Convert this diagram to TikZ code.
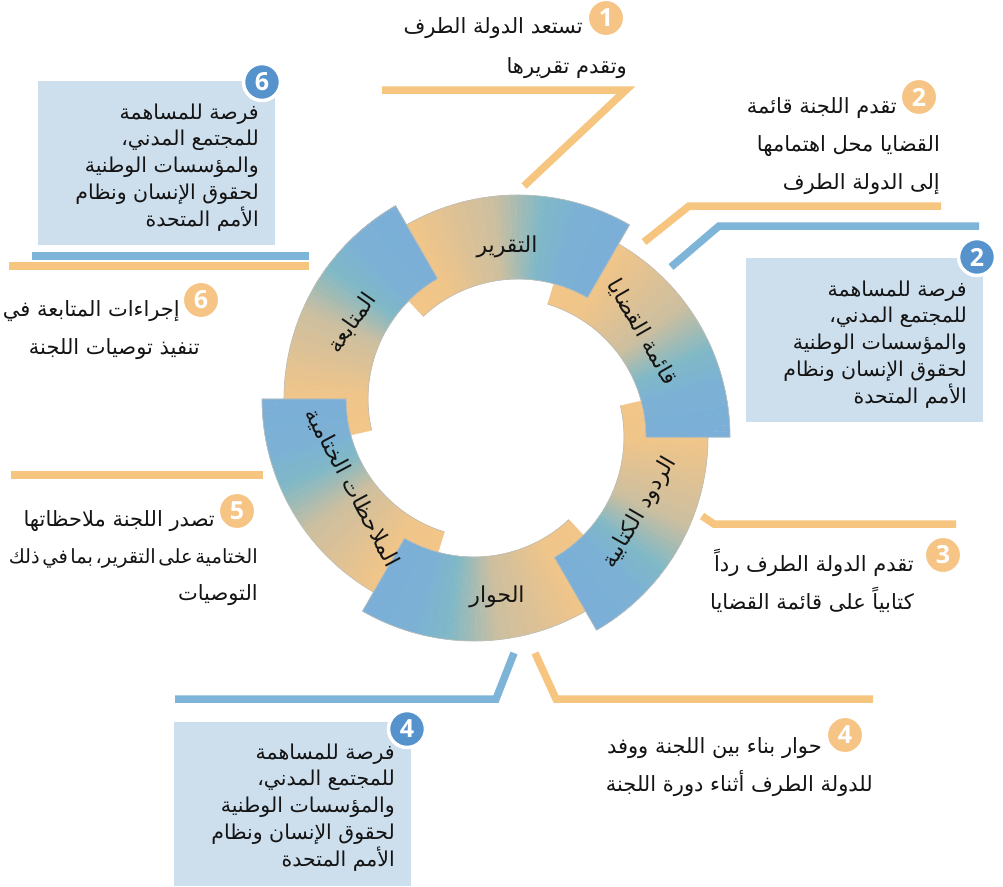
\documentclass[tikz,border=0pt]{standalone}
\usepackage{fontspec}
\setmainfont{DejaVu Sans}
\newfontfamily\arabicfont[Script=Arabic]{DejaVu Sans}
\newfontfamily\digitfont{Open Sans}
\TeXXeTstate=1
\definecolor{lorange}{RGB}{246,197,128}
\definecolor{lblue}{RGB}{126,180,216}
\definecolor{boxblue}{RGB}{205,222,237}
\definecolor{badgeblue}{RGB}{86,146,204}
\definecolor{badgeorange}{RGB}{246,196,132}
\definecolor{txtcol}{RGB}{20,20,20}
\definecolor{segedge}{RGB}{190,190,185}
\newcommand\rtlline[1]{\beginR #1\endR}
\newcommand\firstline[1]{\rule{0pt}{22pt}\beginR #1\endR}
\newcommand\slicecolor[1]{%
  \pgfmathsetmacro\gsA{max(0,min(1,(#1)/0.2))}%
  \pgfmathsetmacro\gsB{max(0,min(1,((#1)-0.2)/0.3))}%
  \pgfmathsetmacro\gsC{max(0,min(1,((#1)-0.5)/0.18))}%
  \pgfmathsetmacro\gsD{max(0,min(1,((#1)-0.68)/0.12))}%
  \pgfmathsetmacro\gsE{max(0,min(1,((#1)-0.8)/0.2))}%
  \pgfmathtruncatemacro\gR{243-3*\gsA-35*\gsB-77*\gsC-3*\gsD-2*\gsE}%
  \pgfmathtruncatemacro\gG{198-1*\gsA-6*\gsB-6*\gsC-7*\gsD-3*\gsE}%
  \pgfmathtruncatemacro\gB{136+2*\gsA+22*\gsB+39*\gsC+14*\gsD+3*\gsE}%
  \definecolor{slc}{RGB}{\gR,\gG,\gB}%
}
\newcommand\ringseg[3]{%
  \pgfmathsetmacro\segc{90-60*#1}%
  \pgfmathsetmacro\segox{496+22*sin(\segc)}%
  \pgfmathsetmacro\segoy{418+22*cos(\segc)}%
  \foreach \sli in {#2,...,#3}{%
    \pgfmathsetmacro\sgA{\segc+43-73*\sli/48}%
    \pgfmathsetmacro\sgB{\segc+43-73*(\sli+1)/48}%
    \pgfmathsetmacro\sgT{(\sli+0.5)/48}%
    \slicecolor{\sgT}%
    \filldraw[slc, line width=0.4pt]
      ({\segox+139*cos(\sgA)},{\segoy-139*sin(\sgA)}) --
      ({\segox+223*cos(\sgA)},{\segoy-223*sin(\sgA)}) --
      ({\segox+223*cos(\sgB)},{\segoy-223*sin(\sgB)}) --
      ({\segox+139*cos(\sgB)},{\segoy-139*sin(\sgB)}) -- cycle;
  }%
  \pgfmathsetmacro\sgS{\segc+43-73*#2/48}%
  \pgfmathsetmacro\sgE{\segc+43-73*(#3+1)/48}%
  \draw[segedge, line width=0.6pt]
    plot[domain=\sgS:\sgE, samples=40] ({\segox+223*cos(\x)},{\segoy-223*sin(\x)}) --
    plot[domain=\sgE:\sgS, samples=40] ({\segox+139*cos(\x)},{\segoy-139*sin(\x)});
}
\begin{document}
\begin{tikzpicture}[x=1pt,y=-1pt,
  conn/.style={line width=7.5pt, line join=miter},
  olink/.style={conn, draw=lorange},
  blink/.style={conn, draw=lblue},
  infobox/.style={fill=boxblue, inner sep=0pt, minimum width=237pt, minimum height=164pt},
  outtext/.style={anchor=north east, align=right, inner sep=0pt, text=txtcol,
     font=\arabicfont\fontsize{21}{38}\selectfont},
  boxtext/.style={anchor=north east, align=right, inner sep=0pt, text=txtcol,
     font=\arabicfont\fontsize{20.5}{26.7}\selectfont},
  ringlab/.style={inner sep=0pt, text=txtcol, font=\arabicfont\fontsize{22}{26}\selectfont},
  obadge/.style={circle, fill=badgeorange, draw=white, line width=2pt, text=white,
     minimum size=36pt, inner sep=0pt, font=\digitfont\bfseries\fontsize{25}{25}\selectfont},
  bbadge/.style={circle, fill=badgeblue, draw=white, line width=3.5pt, text=white,
     minimum size=37pt, inner sep=0pt, font=\digitfont\bfseries\fontsize{25}{25}\selectfont}]
\useasboundingbox (0,0) rectangle (1003,886);
\fill[white] (0,0) rectangle (1003,886);

% ring segments
\ringseg{5}{0}{47}
\ringseg{4}{0}{47}
\ringseg{3}{0}{47}
\ringseg{2}{0}{47}
\ringseg{1}{0}{47}
\ringseg{0}{0}{47}
\ringseg{5}{28}{47}

% ring labels
\node[ringlab] (r1) at (507,247) {\rtlline{التقرير}};
\node[ringlab, rotate=-60] (r2) at (642,332) {\rtlline{قائمة القضايا}};
\node[ringlab, rotate=60] (r3) at (640,513) {\rtlline{الردود الكتابية}};
\node[ringlab] (r4) at (497,597) {\rtlline{الحوار}};
\node[ringlab, rotate=-62] (r5) at (352,488) {\rtlline{الملاحظات الختامية}};
\node[ringlab, rotate=55] (r6) at (352,323) {\rtlline{المتابعة}};

% connector end points
\coordinate (l1a) at (382,90);
\coordinate (l1b) at (626,90);
\coordinate (l1c) at (524,186);
\coordinate (l2a) at (644,242);
\coordinate (l2b) at (689,206);
\coordinate (l2c) at (941,206);
\coordinate (m2a) at (671,267);
\coordinate (m2b) at (719,226);
\coordinate (m2c) at (979,226);
\coordinate (l3a) at (702,516);
\coordinate (l3b) at (714,524);
\coordinate (l3c) at (956,524);
\coordinate (l4a) at (535,653);
\coordinate (l4b) at (556,699);
\coordinate (l4c) at (873,699);
\coordinate (m4a) at (514,653);
\coordinate (m4b) at (496,699);
\coordinate (m4c) at (175,699);
\coordinate (l5a) at (11,475);
\coordinate (l5b) at (263,475);
\coordinate (m6a) at (32,256);
\coordinate (m6b) at (309,256);
\coordinate (l6a) at (9,266);
\coordinate (l6b) at (309,266);

\draw[olink] (l1a) -- (l1b) -- (l1c);
\draw[olink] (l2a) -- (l2b) -- (l2c);
\draw[blink] (m2a) -- (m2b) -- (m2c);
\draw[olink] (l3a) -- (l3b) -- (l3c);
\draw[olink] (l4a) -- (l4b) -- (l4c);
\draw[blink] (m4a) -- (m4b) -- (m4c);
\draw[olink] (l5a) -- (l5b);
\draw[blink] (m6a) -- (m6b);
\draw[olink] (l6a) -- (l6b);

% boxes
\node[infobox] (box6) at (156.5,163) {};
\node[infobox] (box2) at (864.5,340) {};
\node[infobox] (box4) at (292.5,804) {};

\node[boxtext] (bt6) at (259,97) {\firstline{فرصة للمساهمة}\\\rtlline{للمجتمع المدني،}\\\rtlline{والمؤسسات الوطنية}\\\rtlline{لحقوق الإنسان ونظام}\\\rtlline{الأمم المتحدة}};
\node[boxtext] (bt2) at (967,274) {\firstline{فرصة للمساهمة}\\\rtlline{للمجتمع المدني،}\\\rtlline{والمؤسسات الوطنية}\\\rtlline{لحقوق الإنسان ونظام}\\\rtlline{الأمم المتحدة}};
\node[boxtext] (bt4) at (395,737) {\firstline{فرصة للمساهمة}\\\rtlline{للمجتمع المدني،}\\\rtlline{والمؤسسات الوطنية}\\\rtlline{لحقوق الإنسان ونظام}\\\rtlline{الأمم المتحدة}};

% outer texts
\node[outtext, font=\arabicfont\fontsize{21}{40}\selectfont] (t1) at (627,11) {\firstline{تستعد الدولة الطرف}\hspace*{44pt}\\\rtlline{وتقدم تقريرها}};
\node[outtext] (t2) at (940,91) {\firstline{تقدم اللجنة قائمة}\hspace*{43pt}\\\rtlline{القضايا محل اهتمامها}\\\rtlline{إلى الدولة الطرف}};
\node[outtext] (t3) at (914,549) {\firstline{تقدم الدولة الطرف رداً}\\\rtlline{كتابياً على قائمة القضايا}};
\node[outtext] (t4) at (873,731) {\firstline{حوار بناء بين اللجنة ووفد}\hspace*{51pt}\\\rtlline{للدولة الطرف أثناء دورة اللجنة}};
\node[outtext, font=\arabicfont\fontsize{21}{37}\selectfont] (t5) at (258,504) {\firstline{تصدر اللجنة ملاحظاتها}\hspace*{43pt}\\{\fontsize{19.5}{37}\selectfont\spaceskip=2.5pt\rtlline{الختامية على التقرير، بما في ذلك}}\\\rtlline{التوصيات}};
\node[outtext] (t6) at (200,294) {\firstline{إجراءات المتابعة في}\hspace*{20pt}\\\rtlline{تنفيذ توصيات اللجنة}};

% badges
\node[obadge] (n1) at (606,18) {1};
\node[obadge] (n2) at (919,97) {2};
\node[obadge] (n3) at (943,555) {3};
\node[obadge] (n4) at (845,735) {4};
\node[obadge] (n5) at (237,511) {5};
\node[obadge] (n6) at (201,300) {6};
\node[bbadge] (b2) at (977,257) {2};
\node[bbadge] (b4) at (407,729) {4};
\node[bbadge] (b6) at (262,82) {6};
\end{tikzpicture}
\end{document}
